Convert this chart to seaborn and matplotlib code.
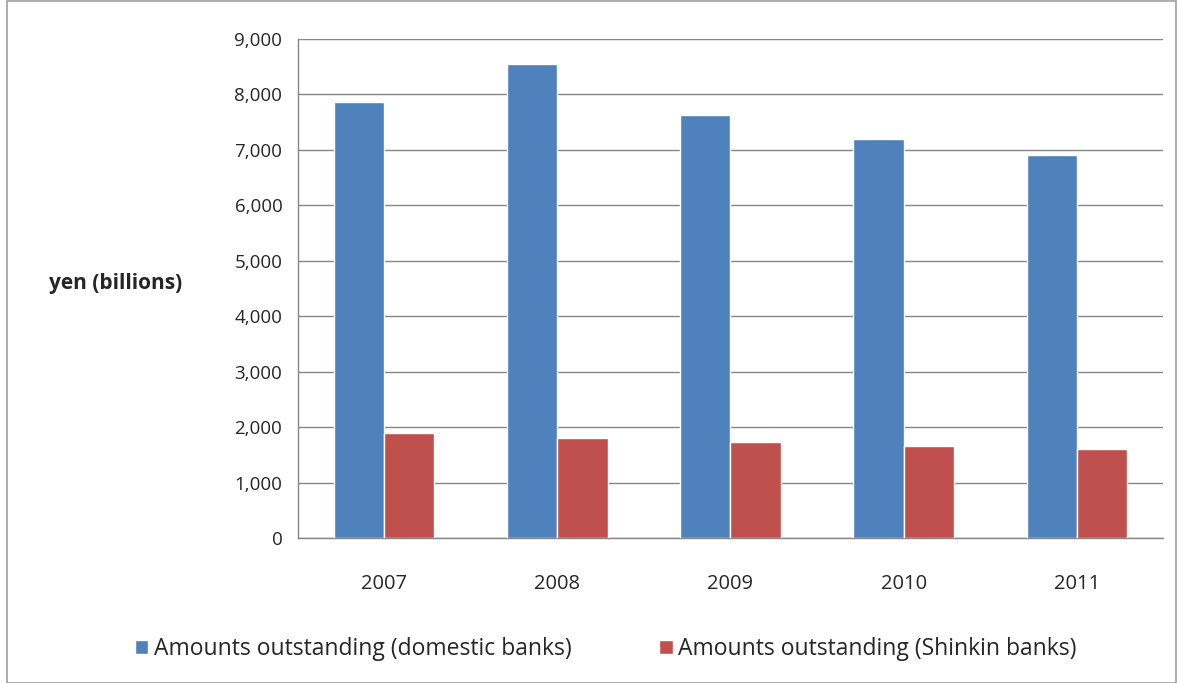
import numpy as np
import pandas as pd
import matplotlib.pyplot as plt
import seaborn as sns
from matplotlib.patches import Rectangle

sns.set_style("white")
plt.rcParams['font.family'] = ['Open Sans', 'DejaVu Sans']

# data
years = ['2007', '2008', '2009', '2010', '2011']
domestic = [7860, 8550, 7630, 7200, 6910]
shinkin = [1900, 1810, 1740, 1670, 1610]
series = ['Amounts outstanding (domestic banks)', 'Amounts outstanding (Shinkin banks)']
colors = ['#4F81BD', '#C0504D']

df = pd.DataFrame({
    'year': years * 2,
    'value': domestic + shinkin,
    'series': [series[0]] * len(years) + [series[1]] * len(years),
})

fig = plt.figure(figsize=(11.81, 6.83), dpi=100)
ax = fig.add_axes([0.252, 0.212, 0.733, 0.731])

sns.barplot(data=df, x='year', y='value', hue='series', palette=colors,
            width=0.58, saturation=1, ax=ax, zorder=3)

grid_c = '#868686'
ax.set_ylim(0, 9000)
ax.set_xlim(-0.5, len(years) - 0.5)
ax.set_yticks(np.arange(0, 9001, 1000))
ax.set_yticklabels([f'{v:,}' for v in range(0, 9001, 1000)])
ax.yaxis.grid(True, color=grid_c, linewidth=1, zorder=0)
ax.set_axisbelow(True)

for s in ['top', 'right']:
    ax.spines[s].set_visible(False)
for s in ['left', 'bottom']:
    ax.spines[s].set_color(grid_c)
    ax.spines[s].set_linewidth(1)

ax.tick_params(axis='y', direction='out', length=6, color=grid_c, labelsize=13.5, pad=5)
ax.tick_params(axis='x', which='major', length=0, labelsize=14.5, pad=26)
ax.set_xticks(np.arange(-0.5, len(years), 1.0), minor=True)
ax.tick_params(axis='x', which='minor', direction='out', length=6, color=grid_c)

ax.set_xlabel('')
ax.set_ylabel('yen (billions)', rotation=0, fontsize=15, fontweight='bold')
ax.yaxis.set_label_coords(-0.21, 0.49)

ax.legend(loc='center', bbox_to_anchor=(0.356, -0.222), ncol=2, frameon=False,
          fontsize=16.5, handlelength=0.6, handleheight=0.6, handletextpad=0.25,
          columnspacing=3.8)

fig.patches.append(Rectangle((0.006, 0.0), 0.99, 0.999, transform=fig.transFigure,
                             fill=False, edgecolor='#A0A0A0', linewidth=1.2))

fig.savefig('out.png', dpi=100)
